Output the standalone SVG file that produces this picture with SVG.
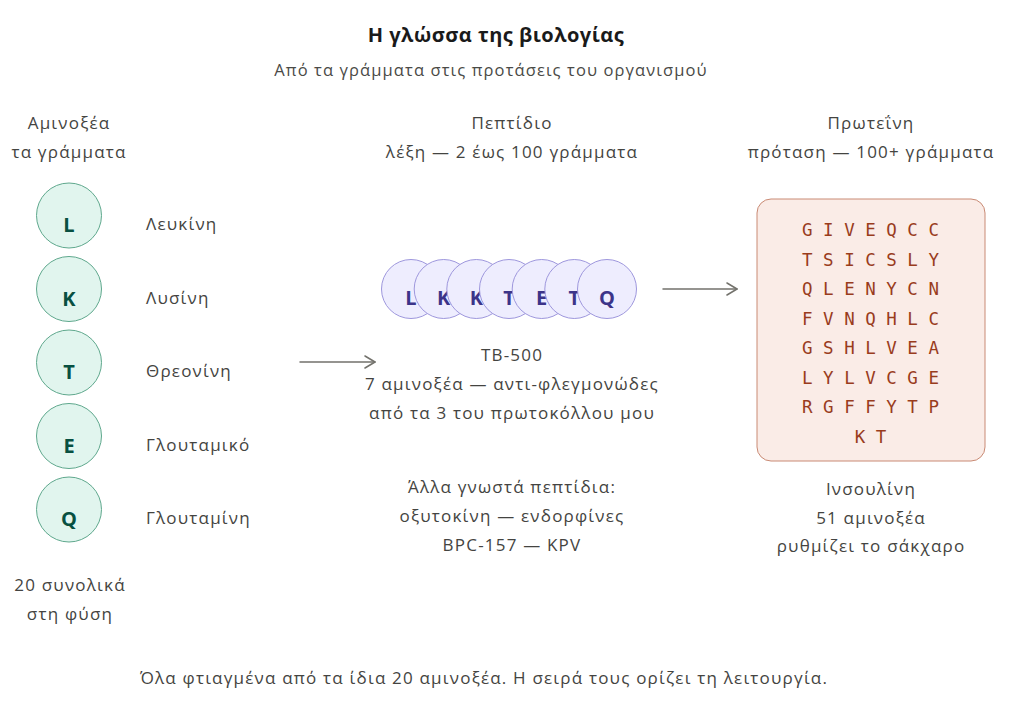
<svg xmlns="http://www.w3.org/2000/svg" width="1024" height="708" viewBox="0 0 1024 708">
<defs>
<style>
text{font-family:"Open Sans","Noto Sans","DejaVu Sans",sans-serif;fill:#444441;font-size:17px;letter-spacing:1.2px}
.c{text-anchor:middle}
.title{font-size:20px;font-weight:700;fill:#1a1a1a;letter-spacing:0.5px}
.sub{font-size:16.5px;fill:#4a4a46;letter-spacing:1.1px}
.aa circle{fill:#e1f5ee;stroke:#5fa88d;stroke-width:1}
.aa text.l{font-size:20px;font-weight:700;fill:#085041;text-anchor:middle;letter-spacing:0}
.pp circle{fill:#eeedfe;stroke:#9e97dd;stroke-width:1}
.pp text{font-size:20px;font-weight:700;fill:#3c3489;text-anchor:middle;letter-spacing:0}
.box{fill:#faece7;stroke:#c98a74;stroke-width:1}
.mono{font-family:"DejaVu Sans Mono","Liberation Mono",monospace;font-size:17.5px;fill:#993c1d;text-anchor:middle;letter-spacing:0}
.arr{stroke:#73726c;stroke-width:1.5;fill:none;stroke-linecap:round;stroke-linejoin:round}
</style>
<marker id="ah" viewBox="0 0 12 14" refX="11" refY="7" markerWidth="12" markerHeight="14" markerUnits="userSpaceOnUse" orient="auto">
<path d="M1,1 L11,7 L1,13" fill="none" stroke="#73726c" stroke-width="1.5" stroke-linecap="round" stroke-linejoin="round"/>
</marker>
</defs>
<rect width="1024" height="708" fill="#ffffff"/>
<g id="header">
<text class="c title" x="496" y="42">Η γλώσσα της βιολογίας</text>
<text class="c sub" x="491" y="76">Από τα γράμματα στις προτάσεις του οργανισμού</text>
</g>
<g id="col-aminoacids">
<text class="c" x="69" y="129">Αμινοξέα</text>
<text class="c" x="69" y="158">τα γράμματα</text>
<text class="c" x="70" y="591">20 συνολικά</text>
<text class="c" x="70" y="620">στη φύση</text>
</g>
<g id="aa-L" class="aa"><circle cx="69" cy="215.5" r="32.5"/><text class="l" x="69" y="232">L</text><text x="146" y="230">Λευκίνη</text></g>
<g id="aa-K" class="aa"><circle cx="69" cy="289" r="32.5"/><text class="l" x="69" y="305.5">K</text><text x="146" y="303.5">Λυσίνη</text></g>
<g id="aa-T" class="aa"><circle cx="69" cy="362.5" r="32.5"/><text class="l" x="69" y="379">T</text><text x="146" y="377">Θρεονίνη</text></g>
<g id="aa-E" class="aa"><circle cx="69" cy="436" r="32.5"/><text class="l" x="69" y="452.5">E</text><text x="146" y="450.5">Γλουταμικό</text></g>
<g id="aa-Q" class="aa"><circle cx="69" cy="509.5" r="32.5"/><text class="l" x="69" y="526">Q</text><text x="146" y="524">Γλουταμίνη</text></g>
<g id="peptide">
<text class="c" x="512" y="129">Πεπτίδιο</text>
<text class="c" x="512" y="158">λέξη — 2 έως 100 γράμματα</text>
<g class="pp">
<circle cx="411" cy="289" r="29.5"/><text x="411" y="305">L</text>
<circle cx="443.7" cy="289" r="29.5"/><text x="443.7" y="305">K</text>
<circle cx="476.3" cy="289" r="29.5"/><text x="476.3" y="305">K</text>
<circle cx="509" cy="289" r="29.5"/><text x="509" y="305">T</text>
<circle cx="541.7" cy="289" r="29.5"/><text x="541.7" y="305">E</text>
<circle cx="574.3" cy="289" r="29.5"/><text x="574.3" y="305">T</text>
<circle cx="607" cy="289" r="29.5"/><text x="607" y="305">Q</text>
</g>
<text class="c" x="512" y="361">TB-500</text>
<text class="c" x="512" y="390">7 αμινοξέα — αντι-φλεγμονώδες</text>
<text class="c" x="512" y="419">από τα 3 του πρωτοκόλλου μου</text>
<text class="c" x="512" y="493">Άλλα γνωστά πεπτίδια:</text>
<text class="c" x="512" y="522">οξυτοκίνη — ενδορφίνες</text>
<text class="c" x="512" y="551">BPC-157 — KPV</text>
</g>
<g id="protein">
<text class="c" x="871" y="129">Πρωτεΐνη</text>
<text class="c" x="871" y="158">πρόταση — 100+ γράμματα</text>
<rect class="box" x="757" y="199" width="228" height="262" rx="14"/>
<text class="mono" x="870.5" y="236">G I V E Q C C</text>
<text class="mono" x="870.5" y="265.5">T S I C S L Y</text>
<text class="mono" x="870.5" y="295">Q L E N Y C N</text>
<text class="mono" x="870.5" y="324.5">F V N Q H L C</text>
<text class="mono" x="870.5" y="354">G S H L V E A</text>
<text class="mono" x="870.5" y="383.5">L Y L V C G E</text>
<text class="mono" x="870.5" y="413">R G F F Y T P</text>
<text class="mono" x="870.5" y="442.5">K T</text>
<text class="c" x="871" y="495">Ινσουλίνη</text>
<text class="c" x="871" y="524">51 αμινοξέα</text>
<text class="c" x="871" y="552">ρυθμίζει το σάκχαρο</text>
</g>
<g id="connectors">
<line class="arr" x1="300" y1="362" x2="375" y2="362" marker-end="url(#ah)"/>
<line class="arr" x1="663" y1="289" x2="737" y2="289" marker-end="url(#ah)"/>
</g>
<g id="footer">
<text class="c" x="484" y="684">Όλα φτιαγμένα από τα ίδια 20 αμινοξέα. Η σειρά τους ορίζει τη λειτουργία.</text>
</g>
</svg>
